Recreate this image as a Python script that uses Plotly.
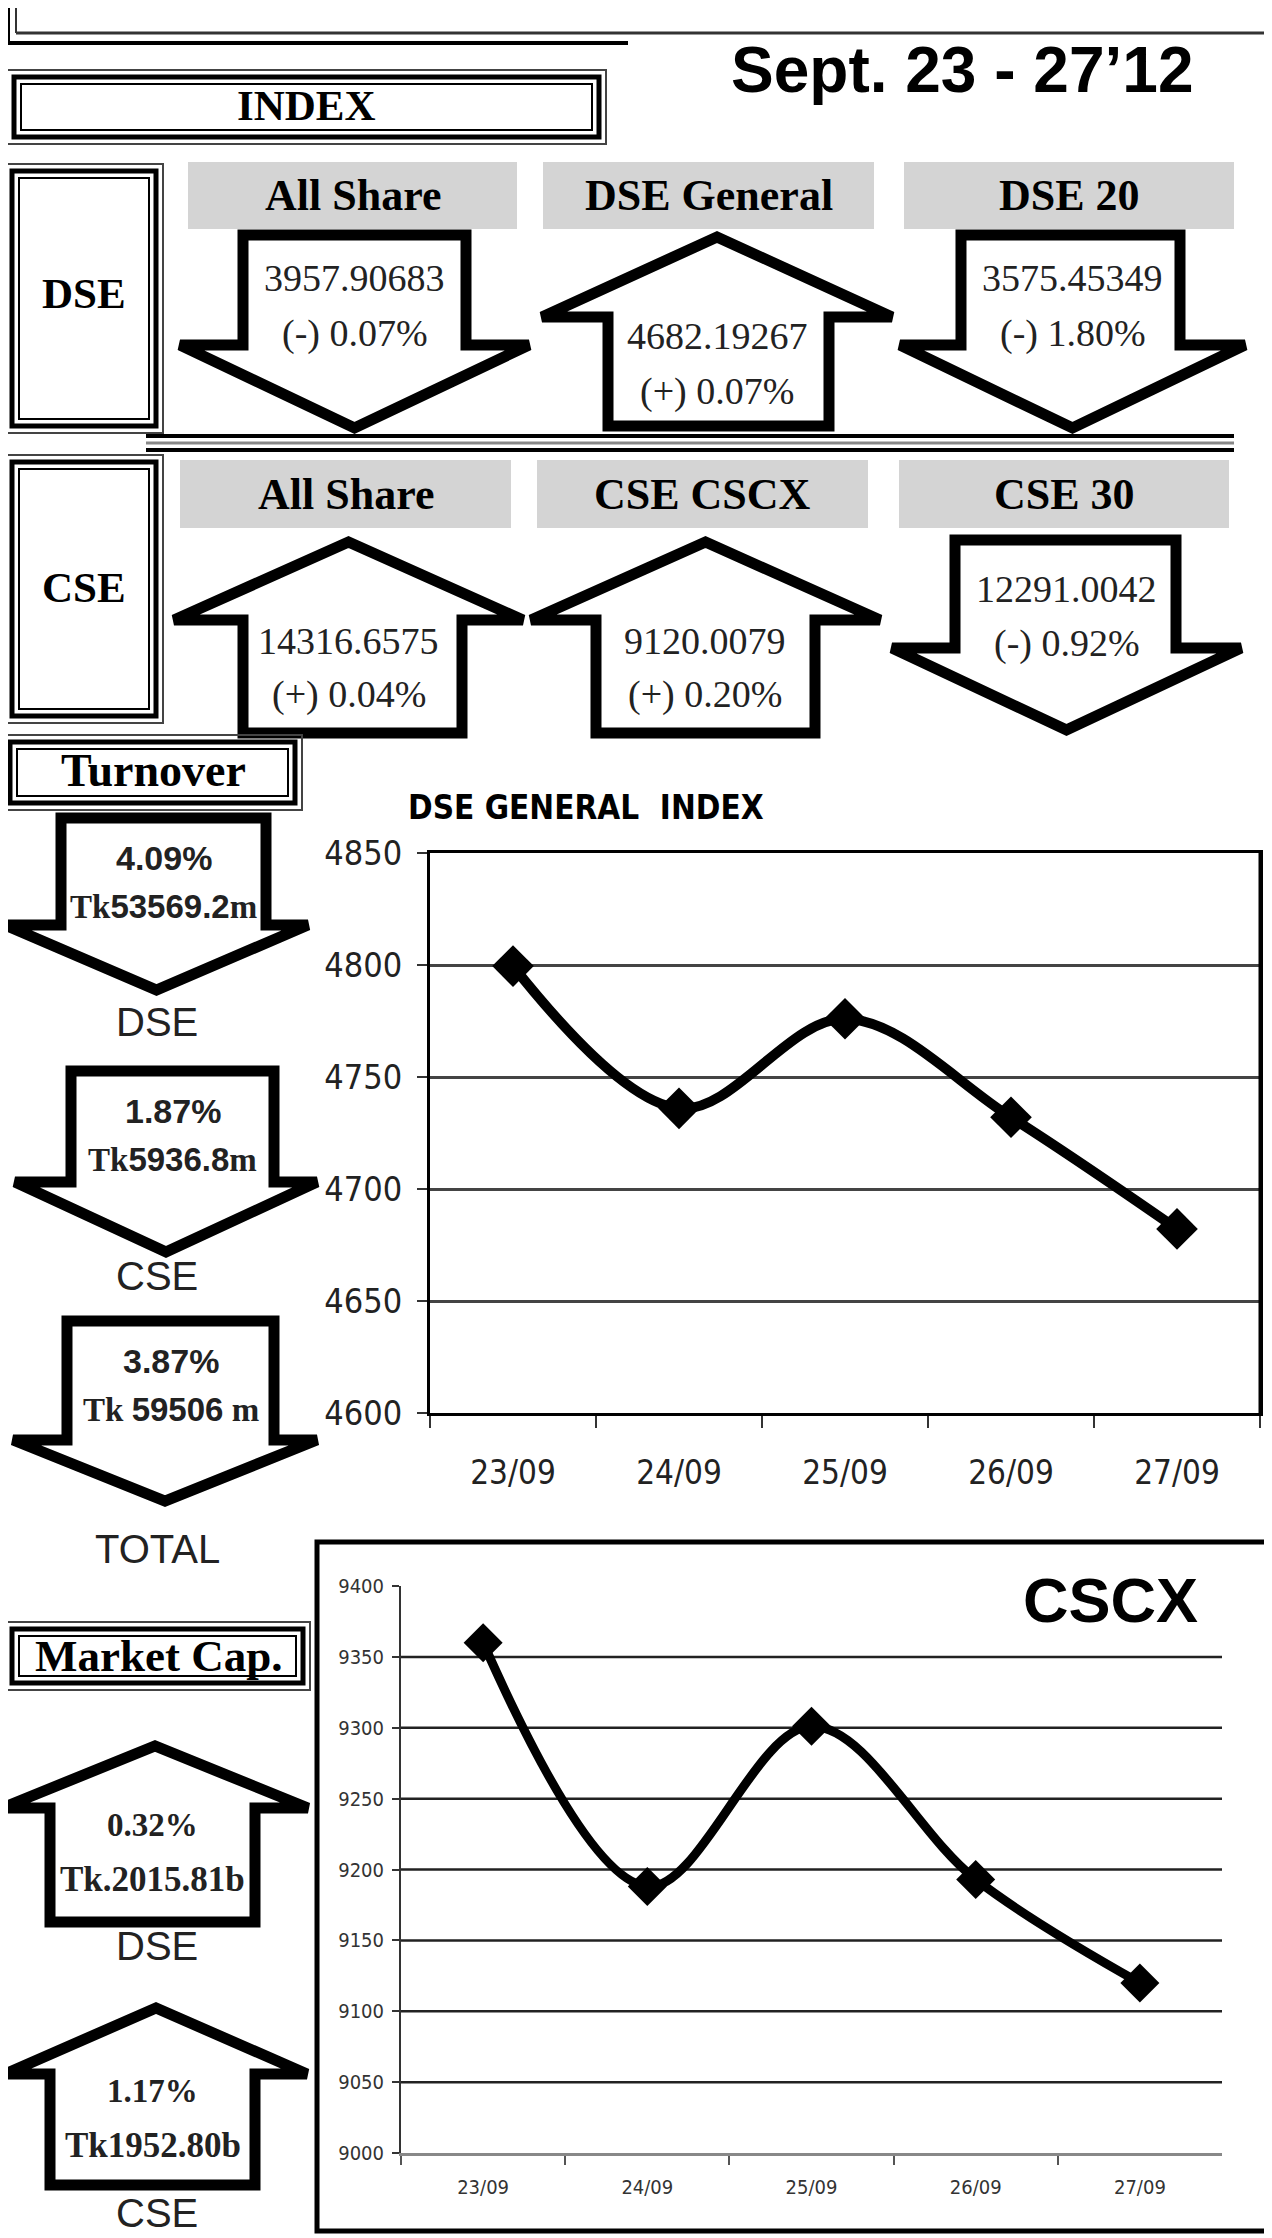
import plotly.graph_objects as go

W, H = 1272, 2238
OFF = 8  # page body margin compensation

# ---------------- data ----------------
dates = ["23/09", "24/09", "25/09", "26/09", "27/09"]
dse_general = [4799.5, 4736, 4776, 4732, 4682.19]
cscx = [9360, 9188, 9301, 9193, 9120.01]
dse_ticks = [4600, 4650, 4700, 4750, 4800, 4850]
cscx_ticks = [9000, 9050, 9100, 9150, 9200, 9250, 9300, 9350, 9400]
cscx_grid = [9050, 9100, 9150, 9200, 9250, 9300, 9350]

period = "Sept. 23 - 27\u201912"

dse_idx_names = ["All Share", "DSE General", "DSE 20"]
dse_idx_values = ["3957.90683", "4682.19267", "3575.45349"]
dse_idx_changes = ["(-) 0.07%", "(+) 0.07%", "(-) 1.80%"]
dse_idx_dirs = ["down", "up", "down"]

cse_idx_names = ["All Share", "CSE CSCX", "CSE 30"]
cse_idx_values = ["14316.6575", "9120.0079", "12291.0042"]
cse_idx_changes = ["(+) 0.04%", "(+) 0.20%", "(-) 0.92%"]
cse_idx_dirs = ["up", "up", "down"]

turn_labels = ["DSE", "CSE", "TOTAL"]
turn_pct = ["4.09%", "1.87%", "3.87%"]
turn_amt = [("Tk", "53569.2", "m"), ("Tk", "5936.8", "m"), ("Tk ", "59506", " m")]

mcap_labels = ["DSE", "CSE"]
mcap_pct = ["0.32%", "1.17%"]
mcap_amt = ["Tk.2015.81b", "Tk1952.80b"]

SERIF = "Liberation Serif, Times New Roman, serif"
SANS = "Liberation Sans, Arial, sans-serif"
NARROW = "Liberation Sans Narrow, Arial Narrow, DejaVu Sans Condensed, sans-serif"


def X(x):
    return (x - OFF) / W


def Y(y):
    return 1 - (y - OFF) / H


def poly(points):
    return "M " + " L ".join(f"{X(x):.5f},{Y(y):.5f}" for x, y in points) + " Z"


shapes = []
annotations = []


def line(x0, y0, x1, y1, w=3, c="black"):
    shapes.append(dict(type="line", xref="paper", yref="paper", x0=X(x0), y0=Y(y0),
                       x1=X(x1), y1=Y(y1), line=dict(color=c, width=w)))


def rect(x0, y0, x1, y1, w=2, c="black", fill=None):
    d = dict(type="rect", xref="paper", yref="paper", x0=X(x0), y0=Y(y0),
             x1=X(x1), y1=Y(y1), line=dict(color=c, width=w))
    if fill:
        d["fillcolor"] = fill
    if w == 0:
        d["line"] = dict(width=0)
    shapes.append(d)


def triple_box(x0, y0, x1, y1):
    rect(x0, y0, x1, y1, w=2, c="#444")
    rect(x0 + 7, y0 + 7, x1 - 7, y1 - 7, w=5, c="black")
    rect(x0 + 14, y0 + 14, x1 - 14, y1 - 14, w=2, c="black")


def text(x, y, t, size, family=SERIF, bold=False, color="black", xanchor="center"):
    if bold:
        t = f"<b>{t}</b>"
    annotations.append(dict(x=X(x), y=Y(y), xref="paper", yref="paper", text=t,
                            showarrow=False, xanchor=xanchor, yanchor="middle",
                            font=dict(size=size, family=family, color=color)))


def down_arrow(sl, sr, top, hy, hl, hr, tip, w=11):
    tx = (hl + hr) / 2
    shapes.append(dict(type="path", xref="paper", yref="paper",
                       path=poly([(sl, top), (sr, top), (sr, hy), (hr, hy), (tx, tip), (hl, hy), (sl, hy)]),
                       line=dict(color="black", width=w), fillcolor="white"))


def up_arrow(sl, sr, bottom, hy, hl, hr, tip, w=11):
    tx = (hl + hr) / 2
    shapes.append(dict(type="path", xref="paper", yref="paper",
                       path=poly([(sl, bottom), (sr, bottom), (sr, hy), (hr, hy), (tx, tip), (hl, hy), (sl, hy)]),
                       line=dict(color="black", width=w), fillcolor="white"))


# ---------------- top frame ----------------
line(16, -5, 16, 33, w=2, c="#333")
line(16, 33, 1290, 33, w=3, c="#333")
line(8, -5, 8, 43, w=4)
line(8, 43, 628, 43, w=4)

text(962, 70, period, 64, family=SANS, bold=True)

# INDEX box
triple_box(7, 70, 606, 144)
text(306, 106, "INDEX", 43, bold=True)

# ---------------- DSE index row ----------------
triple_box(5, 164, 163, 433)
text(84, 294, "DSE", 43, bold=True)
hdr_dse_x = [(188, 517), (543, 874), (904, 1234)]
for (x0, x1), name in zip(hdr_dse_x, dse_idx_names):
    rect(x0, 162, x1, 229, w=0, fill="#d4d4d4")
    text((x0 + x1) / 2, 196, name, 44, bold=True)

dse_geom = {
    0: dict(sl=243, sr=466, hl=180, hr=529),
    1: dict(sl=608, sr=829, hl=542, hr=892),
    2: dict(sl=961, sr=1180, hl=900, hr=1245),
}
for i, d in enumerate(dse_idx_dirs):
    g = dse_geom[i]
    cx = (g["hl"] + g["hr"]) / 2
    if d == "down":
        down_arrow(g["sl"], g["sr"], 235, 345, g["hl"], g["hr"], 428)
        text(cx, 278, dse_idx_values[i], 38, color="#222")
        text(cx, 333, dse_idx_changes[i], 38, color="#222")
    else:
        up_arrow(g["sl"], g["sr"], 426, 317, g["hl"], g["hr"], 237)
        text(cx, 336, dse_idx_values[i], 38, color="#222")
        text(cx, 391, dse_idx_changes[i], 38, color="#222")

# separator
line(146, 436, 1234, 436, w=4)
line(146, 443, 1234, 443, w=3, c="#888")
line(146, 450, 1234, 450, w=4)

# ---------------- CSE index row ----------------
triple_box(5, 455, 163, 723)
text(84, 587, "CSE", 43, bold=True)
hdr_cse_x = [(180, 511), (537, 868), (899, 1229)]
for (x0, x1), name in zip(hdr_cse_x, cse_idx_names):
    rect(x0, 460, x1, 528, w=0, fill="#d4d4d4")
    text((x0 + x1) / 2, 494, name, 44, bold=True)

cse_geom = {
    0: dict(sl=243, sr=462, hl=174, hr=523),
    1: dict(sl=596, sr=815, hl=531, hr=880),
    2: dict(sl=955, sr=1176, hl=892, hr=1241),
}
for i, d in enumerate(cse_idx_dirs):
    g = cse_geom[i]
    cx = (g["hl"] + g["hr"]) / 2
    if d == "down":
        down_arrow(g["sl"], g["sr"], 540, 648, g["hl"], g["hr"], 730)
        text(cx, 589, cse_idx_values[i], 38, color="#222")
        text(cx, 643, cse_idx_changes[i], 38, color="#222")
    else:
        up_arrow(g["sl"], g["sr"], 733, 620, g["hl"], g["hr"], 542)
        text(cx, 641, cse_idx_values[i], 38, color="#222")
        text(cx, 694, cse_idx_changes[i], 38, color="#222")

# ---------------- Turnover ----------------
triple_box(3, 735, 302, 810)
text(153, 771, "Turnover", 46, bold=True)

turn_geom = [
    dict(sl=61, sr=266, top=818, hy=925, hl=5, hr=308, tip=990, ly=1022),
    dict(sl=71, sr=274, top=1071, hy=1182, hl=15, hr=317, tip=1252, ly=1276),
    dict(sl=67, sr=274, top=1321, hy=1440, hl=13, hr=317, tip=1501, ly=1549),
]
for g, lab, pct, amt in zip(turn_geom, turn_labels, turn_pct, turn_amt):
    down_arrow(g["sl"], g["sr"], g["top"], g["hy"], g["hl"], g["hr"], g["tip"], w=11)
    cx = (g["sl"] + g["sr"]) / 2
    text(cx, g["top"] + 40, pct, 34, family=SANS, bold=True, color="#222")
    a = (f'<span style="font-family:Liberation Serif">{amt[0]}</span>{amt[1]}'
         f'<span style="font-family:Liberation Serif">{amt[2]}</span>')
    text(cx, g["top"] + 88, a, 33, family=SANS, bold=True, color="#222")
    text(157, g["ly"], lab, 40, family=SANS, color="#222")

# ---------------- Market Cap ----------------
triple_box(5, 1622, 310, 1690)
text(158, 1656, "Market Cap.", 45, bold=True)

mcap_geom = [
    dict(sl=50, sr=255, bottom=1922, hy=1808, hl=2, hr=308, tip=1746, ly=1946),
    dict(sl=50, sr=255, bottom=2185, hy=2074, hl=5, hr=307, tip=2008, ly=2213),
]
for g, lab, pct, amt in zip(mcap_geom, mcap_labels, mcap_pct, mcap_amt):
    up_arrow(g["sl"], g["sr"], g["bottom"], g["hy"], g["hl"], g["hr"], g["tip"], w=11)
    cx = (g["sl"] + g["sr"]) / 2
    text(cx, g["hy"] + 17, pct, 33, bold=True, color="#222")
    text(cx, g["hy"] + 71, amt, 35, bold=True, color="#222")
    text(157, g["ly"], lab, 40, family=SANS, color="#222")

# ---------------- DSE General Index chart ----------------
text(406, 808, "DSE GENERAL  INDEX", 33, family=NARROW, bold=True, xanchor="left")
shapes.append(dict(type="line", xref="x domain", yref="y domain", x0=1, x1=1, y0=0, y1=1,
                   line=dict(color="black", width=3)))

# ---------------- CSCX chart frame ----------------
rect(317, 1542, 1290, 2231, w=5)
text(1110, 1600, "CSCX", 63, family=SANS, bold=True)

for gv in cscx_grid:
    shapes.append(dict(type="line", xref="x2 domain", yref="y2", x0=0, x1=1, y0=gv, y1=gv,
                       line=dict(color="#222", width=2.5), layer="below"))

fig = go.Figure()
fig.add_trace(go.Scatter(
    x=dates, y=dse_general, mode="lines+markers", xaxis="x", yaxis="y",
    line=dict(color="black", width=10, shape="spline"),
    marker=dict(symbol="diamond", size=32, color="black"),
    hoverinfo="skip"))
fig.add_trace(go.Scatter(
    x=dates, y=cscx, mode="lines+markers", xaxis="x2", yaxis="y2",
    line=dict(color="black", width=9, shape="spline"),
    marker=dict(symbol="diamond", size=30, color="black"),
    hoverinfo="skip"))


def dx(a, b):
    return [X(a), X(b)]


def dy(top, bottom):
    return [Y(bottom), Y(top)]


fig.update_layout(
    template="none",
    width=W, height=H, margin=dict(l=0, r=0, t=0, b=0, pad=0), autosize=False,
    paper_bgcolor="white", plot_bgcolor="white", showlegend=False,
    shapes=shapes, annotations=annotations,
    xaxis=dict(domain=dx(430, 1260), anchor="y", type="category", automargin=False,
               range=[-0.5, 4.5], showline=True, linecolor="black", linewidth=3,
               mirror=True, ticks="outside", ticklen=12, tickwidth=2, tickcolor="#333",
               tickson="boundaries", showgrid=False, ticklabelstandoff=28,
               tickfont=dict(size=33, family=NARROW, color="#222")),
    yaxis=dict(domain=dy(853, 1413), anchor="x", automargin=False,
               range=[4600, 4850], tickvals=dse_ticks, showline=True,
               linecolor="black", linewidth=3, mirror=True, ticks="outside",
               ticklen=10, tickwidth=2, tickcolor="#333",
               showgrid=True, gridcolor="#444", gridwidth=2.5, zeroline=False,
               ticklabelstandoff=8,
               tickfont=dict(size=34, family=NARROW, color="#222")),
    xaxis2=dict(domain=dx(401, 1222), anchor="y2", type="category", automargin=False,
                range=[-0.5, 4.5], showline=True, linecolor="#888", linewidth=3,
                ticks="outside", ticklen=9, tickwidth=2, tickcolor="#555",
                tickson="boundaries", showgrid=False, ticklabelstandoff=14,
                tickfont=dict(size=20, family=NARROW, color="#333")),
    yaxis2=dict(domain=dy(1586, 2153), anchor="x2", automargin=False,
                range=[9000, 9400], tickvals=cscx_ticks, showline=True,
                linecolor="#333", linewidth=2, ticks="outside", ticklen=7,
                tickwidth=2, tickcolor="#333", showgrid=False, zeroline=False,
                ticklabelstandoff=4,
                tickfont=dict(size=20, family=NARROW, color="#333")),
)

fig.write_html("out.html", config=dict(displayModeBar=False))
